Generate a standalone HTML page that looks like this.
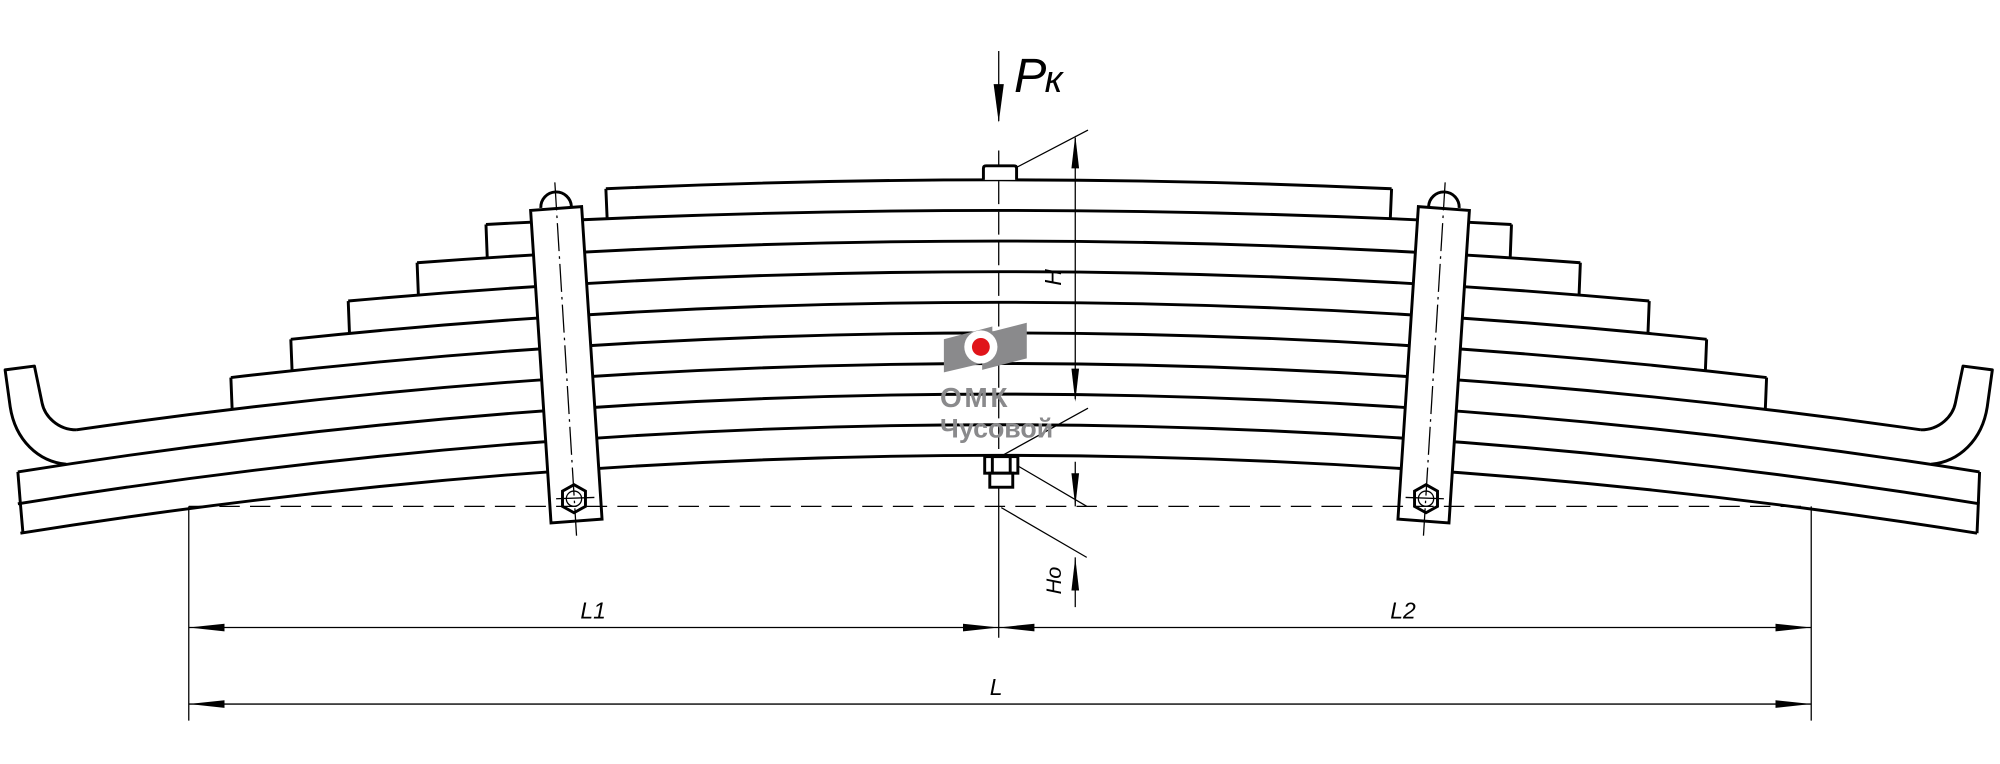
<!DOCTYPE html>
<html><head><meta charset="utf-8"><style>html,body{margin:0;padding:0;background:#fff}svg{display:block}</style></head>
<body>
<svg width="2000" height="764" viewBox="0 0 1568 599" preserveAspectRatio="none" xmlns="http://www.w3.org/2000/svg">
<rect width="1568" height="599" fill="#fff"/>
<g fill="none" stroke="#000" stroke-width="2.3" stroke-linejoin="round">
<path d="M475,148 Q783,134 1091,148"/>
<path d="M381,176 Q783,154 1185,176"/>
<path d="M327,206 Q783,172 1239,206"/>
<path d="M273,236 Q783,190 1293,236"/>
<path d="M228,266 Q783,208 1338,266"/>
<path d="M181,296 Q783,226 1385,296"/>
<path d="M60,337 Q783,233 1506,337"/>
<path d="M14,370 Q783,248 1552,370"/>
<path d="M14,395 Q783,271 1552,395"/>
<path d="M16,418 Q783,296 1550,418"/>
<path d="M475,148 L476,171.5 M1091,148 L1090,171.5"/>
<path d="M381,176 L382,202 M1185,176 L1184,202"/>
<path d="M327,206 L328,231 M1239,206 L1238,231"/>
<path d="M273,236 L274,261.5 M1293,236 L1292,261.5"/>
<path d="M228,266 L229,291 M1338,266 L1337,291"/>
<path d="M181,296 L182,321 M1385,296 L1384,321"/>
<path d="M14,370 L16,395 L18,418 M1552,370 L1551,395 L1550,418"/>
<path d="M60,337 C45,337 35,326 33,316 L27,287 L4,290 L8,319 C12,345 30,362 52,364"/>
<path d="M1506,337 C1521,337 1531,326 1533,316 L1539,287 L1562,290 L1558,319 C1554,345 1536,362 1514,364"/>
</g>
<g stroke="#000" stroke-width="2.3" fill="#fff">
<path d="M424,163 A12,12 0 0 1 448,162" fill="none"/>
<polygon points="416,165 456,162 472,407 432,410"/>
<path d="M1120,162 A12,12 0 0 1 1144,163" fill="none"/>
<polygon points="1112,162 1152,165 1136,410 1096,407"/>
<polygon points="450,380 459,385 459,397 450,402 441,397 441,385"/>
<polygon points="1118,380 1127,385 1127,397 1118,402 1109,397 1109,385"/>
</g>
<g stroke="#000" stroke-width="1" fill="none">
<circle cx="450" cy="391" r="6"/><circle cx="1118" cy="391" r="6"/>
<path d="M435,143 L452,420" stroke-dasharray="22 4 2 4"/>
<path d="M1133,143 L1116,420" stroke-dasharray="22 4 2 4"/>
<path d="M436,391 L466,390 M1102,390 L1132,391"/>
<path d="M148,397 L1420,397" stroke-dasharray="16 8"/>
<path d="M148,397 L148,565 M1420,397 L1420,565"/>
<path d="M783,40 L783,95"/>
<path d="M783,118 L783,357" stroke-dasharray="18 6"/>
<path d="M783,383 L783,500"/>
<path d="M148,492 L1420,492 M148,552 L1420,552"/>
<path d="M843,108 L843,313 M843,362 L843,397 M843,437 L843,476"/>
<path d="M786,137 L853,102 M786,357 L853,320 M789,360 L852,397 M785,398 L852,437"/>
</g>
<g stroke="#000" stroke-width="2.3" fill="#fff">
<path d="M771,141 L771,132 Q771,130 773,130 L795,130 Q797,130 797,132 L797,141"/>
<rect x="772" y="358" width="26" height="13"/>
<rect x="776" y="371" width="18" height="11"/>
<path d="M778,358 L778,371 M792,358 L792,371" fill="none"/>
</g>
<g fill="#000">
<polygon points="783,96 779,66 787,66"/>
<polygon points="148,492 176,489 176,495"/>
<polygon points="783,492 755,489 755,495"/>
<polygon points="783,492 811,489 811,495"/>
<polygon points="1420,492 1392,489 1392,495"/>
<polygon points="148,552 176,549 176,555"/>
<polygon points="1420,552 1392,549 1392,555"/>
<polygon points="843,106 840,132 846,132"/>
<polygon points="843,315 840,289 846,289"/>
<polygon points="843,397 840,371 846,371"/>
<polygon points="843,437 840,463 846,463"/>
</g>
<g>
<polygon points="740,266 778,256 778,283 740,292" fill="#8a8a8c"/>
<polygon points="770,262 805,253 805,281 770,290" fill="#8a8a8c"/>
<circle cx="769" cy="272" r="13" fill="#fff"/>
<circle cx="769" cy="272" r="7" fill="#e0141a"/>
<text x="737" y="319" font-family="Liberation Sans, sans-serif" font-weight="bold" font-size="22" fill="#8a8a8c" letter-spacing="2">ОМК</text>
<text x="737" y="343" font-family="Liberation Sans, sans-serif" font-weight="bold" font-size="21" fill="#8a8a8c">Чусовой</text>
</g>
<g font-family="Liberation Sans, sans-serif" font-style="italic" fill="#000">
<text x="795" y="72" font-size="38">P</text>
<text x="819" y="72" font-size="30">к</text>
<text x="455" y="485" font-size="18">L1</text>
<text x="1090" y="485" font-size="18">L2</text>
<text x="776" y="545" font-size="18">L</text>
<text transform="translate(832,224) rotate(-90)" font-size="18">H</text>
<text transform="translate(832,466) rotate(-90)" font-size="17">Ho</text>
</g>
</svg>
</body></html>
